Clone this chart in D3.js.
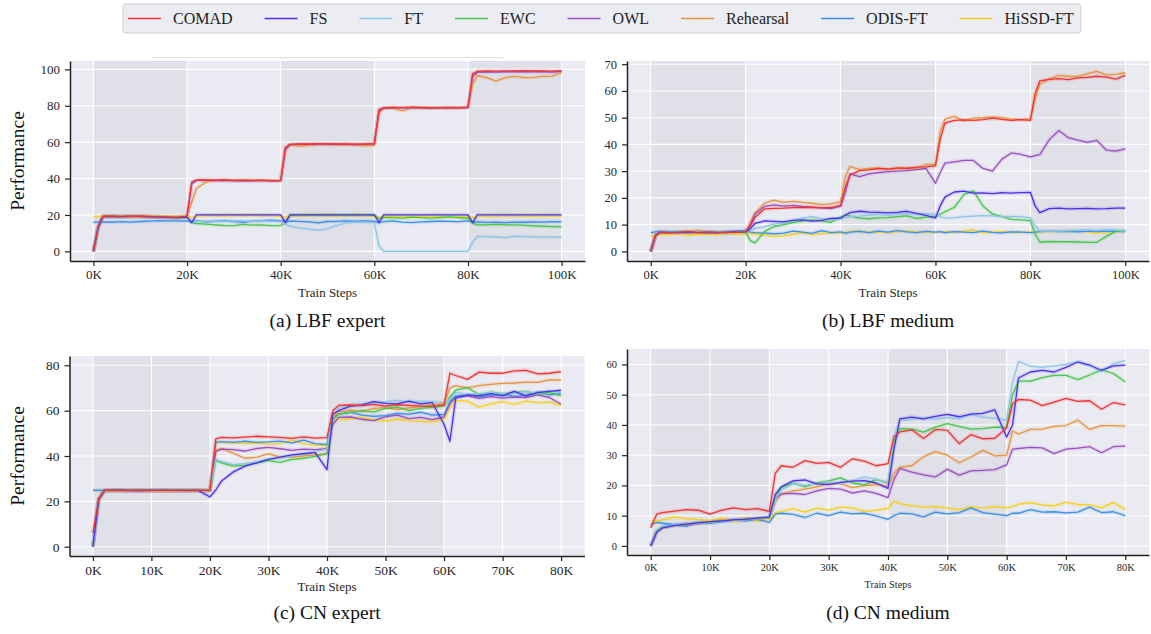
<!DOCTYPE html>
<html>
<head>
<meta charset="utf-8">
<script src="https://cdn.jsdelivr.net/npm/d3@7"></script>
<style>
  body { margin: 0; background: #fff; }
  svg { display: block; }
  svg text { font-family: "Liberation Serif", "Times New Roman", Times, serif; }
</style>
</head>
<body>
<svg id="fig" width="1151" height="634"></svg>
<script>
// ---- data --------------------------------------------------------------
const METHODS = ["COMAD", "FS", "FT", "EWC", "OWL", "Rehearsal", "ODIS-FT", "HiSSD-FT"];
const COLORS  = ["#f03232", "#4a30e8", "#8cc5e8", "#44c74a", "#9a4fc0", "#e8933f", "#3a8fe8", "#f5d01c"];

// train steps (K) at which the curves were read
const STEPS_LBF = [0, 1, 2, 4, 6, 8, 10, 12, 14, 16, 18, 20,
  21, 22, 24, 26, 28, 30, 32, 34, 36, 38, 40,
  41, 42, 44, 46, 48, 50, 52, 54, 56, 58, 60,
  61, 62, 64, 66, 68, 70, 72, 74, 76, 78, 80,
  81, 82, 84, 86, 88, 90, 92, 94, 96, 98, 100];
const STEPS_CN = [0, 1, 2, 4, 6, 8, 10, 12, 14, 16, 18, 20,
  21, 22, 24, 26, 28, 30, 32, 34, 36, 38, 40,
  41, 42, 44, 46, 48, 50, 52, 54, 56, 58, 60,
  61, 62, 64, 66, 68, 70, 72, 74, 76, 78, 80];

const XTICKS_LBF = [0, 20, 40, 60, 80, 100];
const XTICKS_CN  = [0, 10, 20, 30, 40, 50, 60, 70, 80];
const YTICKS_A = [0, 20, 40, 60, 80, 100];
const YTICKS_B = [0, 10, 20, 30, 40, 50, 60, 70];
const YTICKS_C = [0, 20, 40, 60, 80];
const YTICKS_D = [0, 10, 20, 30, 40, 50, 60];
const TASKS_LBF = [[0, 20], [40, 60], [80, 100]];
const TASKS_CN  = [[0, 20], [40, 60]];

// (a) LBF expert
const A_COMAD = [0, 13.5, 19.3, 19.4, 19.2, 19.3, 19.4, 19.2, 19.0, 18.8, 18.7, 19.4,
  38, 39.2, 39.3, 39.1, 39.2, 39.0, 39.1, 39.0, 39.1, 38.9, 39.0,
  57, 58.8, 59.1, 59.0, 59.2, 59.1, 59.0, 59.1, 58.9, 59.0, 59.2,
  78, 78.9, 79.1, 79.0, 79.2, 79.1, 78.9, 79.0, 79.1, 79.0, 79.3,
  97.5, 98.9, 99.1, 99.0, 99.2, 99.1, 99.3, 99.1, 99.2, 99.0, 99.3];
const A_FS = [0, 13, 19.1, 19.2, 19.1, 19.2, 19.2, 19.0, 18.9, 18.7, 18.6, 18.8,
  15.8, 20.1, 20.1, 20.0, 20.1, 20.1, 20.0, 20.1, 20.0, 20.1, 20.0,
  15.8, 20.1, 20.0, 20.1, 20.1, 20.0, 20.1, 20.0, 20.1, 20.0, 20.1,
  15.8, 20.1, 20.1, 20.0, 20.1, 20.0, 20.1, 20.1, 20.0, 20.1, 20.0,
  15.8, 20.1, 20.0, 20.1, 20.1, 20.0, 20.1, 20.0, 20.1, 20.1, 20.1];
const A_FT = [0, 13, 19.1, 19.2, 19.1, 19.2, 19.2, 19.0, 18.9, 18.7, 18.6, 18.5,
  16.5, 16.3, 16.6, 16.8, 16.5, 16.9, 16.7, 16.5, 16.8, 16.6, 16.4,
  15.0, 13.8, 12.8, 12.3, 11.6, 12.3, 14.3, 15.6, 16.0, 16.0, 15.8,
  3.0, 0, 0, 0, 0, 0, 0, 0, 0, 0, 0,
  5.0, 8.3, 8.1, 7.9, 7.6, 8.3, 8.1, 8.0, 7.8, 7.9, 7.7];
const A_EWC = [0, 13, 19.1, 19.2, 19.1, 19.2, 19.2, 19.0, 18.9, 18.7, 18.6, 18.6,
  15.8, 15.3, 15.0, 14.6, 14.2, 14.1, 14.8, 14.4, 14.6, 14.1, 14.2,
  16.0, 19.8, 20.0, 20.1, 20.0, 20.1, 20.0, 20.1, 20.0, 20.1, 19.8,
  18.0, 18.6, 18.5, 18.3, 18.8, 18.5, 18.3, 18.6, 18.9, 18.5, 18.2,
  15.5, 14.5, 14.6, 14.8, 14.5, 14.6, 14.3, 14.0, 13.8, 13.6, 13.4];
const A_OWL = [0, 13, 19.1, 19.2, 19.1, 19.2, 19.2, 19.0, 18.9, 18.7, 18.6, 19.2,
  37, 39.0, 39.1, 38.9, 39.0, 38.8, 38.9, 38.8, 38.9, 38.7, 38.8,
  56, 58.6, 58.9, 58.8, 59.0, 58.9, 58.8, 58.9, 58.7, 58.8, 59.0,
  77, 78.7, 78.9, 78.8, 79.0, 78.9, 78.7, 78.8, 78.9, 78.8, 79.0,
  96, 98.4, 98.6, 98.5, 98.7, 98.6, 98.8, 98.6, 98.7, 98.5, 98.9];
const A_REH = [0, 13, 19.2, 19.3, 19.1, 19.3, 19.3, 19.1, 19.0, 18.7, 18.6, 19.3,
  27, 34.5, 38.0, 39.0, 39.2, 39.0, 39.1, 38.9, 39.0, 38.8, 39.0,
  56, 58.5, 57.8, 58.3, 58.6, 58.8, 58.5, 58.7, 58.4, 58.0, 58.2,
  76, 78.5, 78.7, 77.2, 78.8, 78.6, 78.9, 78.7, 78.8, 78.6, 79.0,
  92, 96.5, 95.5, 93.5, 95.5, 96.2, 95.5, 95.6, 96.2, 96.3, 98.3];
const A_ODIS = [16.0, 16.1, 16.2, 16.0, 16.3, 16.1, 16.4, 16.6, 16.9, 16.7, 16.8, 16.6,
  16.4, 16.7, 16.2, 16.5, 16.9, 16.3, 16.0, 16.6, 16.9, 17.1, 16.7,
  16.3, 16.6, 16.5, 16.2, 15.7, 16.4, 16.5, 16.8, 16.6, 16.7, 16.5,
  15.8, 16.3, 16.7, 16.1, 15.8, 16.2, 16.4, 16.6, 16.5, 16.3, 16.8,
  16.1, 16.2, 15.9, 16.0, 15.8, 16.1, 16.0, 16.2, 16.1, 16.3, 16.2];
const A_HISSD = [19.2, 19.2, 19.3, 19.3, 19.4, 19.3, 19.4, 19.3, 19.2, 19.3, 19.2, 19.4,
  19.0, 19.4, 19.6, 19.6, 19.5, 19.6, 19.7, 19.6, 19.6, 19.6, 19.3,
  18.9, 19.6, 19.7, 19.6, 19.7, 19.6, 19.5, 19.6, 19.7, 19.6, 19.4,
  18.7, 19.2, 19.3, 19.3, 19.2, 19.3, 19.3, 19.2, 19.3, 19.3, 19.0,
  18.6, 19.4, 19.5, 19.4, 19.5, 19.5, 19.4, 19.5, 19.4, 19.5, 19.4];

// (b) LBF medium
const B_COMAD = [0, 6, 7.2, 7.0, 7.1, 7.3, 7.0, 7.2, 7.1, 7.0, 7.2, 7.3,
  9.5, 12.8, 15.9, 16.1, 16.2, 16.4, 16.4, 16.5, 16.3, 16.4, 17.2,
  24, 28.5, 30.2, 30.5, 31.0, 30.8, 31.2, 31.0, 31.5, 31.6, 32.0,
  42, 48, 49.0, 49.2, 49.0, 49.3, 49.8, 49.4, 49.0, 49.3, 49.0,
  59, 63.8, 64.3, 64.6, 64.2, 64.9, 65.1, 65.5, 65.2, 64.4, 65.8];
const B_FS = [0, 6, 7.0, 7.1, 7.0, 7.2, 7.0, 7.1, 7.0, 7.1, 7.2, 7.3,
  8.5, 10.5, 11.4, 11.2, 11.0, 11.6, 11.8, 11.3, 11.6, 12.3, 12.4,
  13.5, 14.5, 15.0, 14.7, 14.6, 14.4, 14.6, 15.0, 14.2, 13.5, 12.5,
  17, 20.3, 22.2, 22.5, 21.8, 21.9, 21.6, 22.0, 21.8, 22.0, 22.1,
  17, 14.5, 16.0, 16.2, 15.9, 16.0, 16.1, 15.9, 16.0, 16.2, 16.2];
const B_FT = [0, 6, 7.0, 7.2, 7.0, 7.1, 7.3, 7.1, 7.2, 7.0, 7.1, 7.4,
  8, 8.5, 9.3, 10.2, 10.8, 11.5, 12.5, 13.0, 12.2, 11.8, 12.2,
  12.5, 13.0, 13.2, 13.6, 13.8, 13.5, 13.9, 14.0, 13.8, 14.2, 13.8,
  13.0, 12.4, 12.6, 13.0, 13.2, 13.4, 13.3, 13.0, 13.1, 13.0, 12.5,
  9.5, 7.6, 7.5, 7.6, 7.7, 7.9, 8.0, 7.8, 8.1, 8.0, 7.6];
const B_EWC = [0, 6, 7.1, 7.0, 7.2, 7.1, 7.0, 7.2, 7.1, 7.0, 7.1, 7.2,
  4.0, 3.2, 7.5, 9.3, 10.0, 10.8, 11.3, 11.8, 11.3, 10.9, 12.8,
  13.6, 13.2, 12.4, 12.2, 12.5, 12.6, 13.0, 13.3, 12.3, 12.8, 13.0,
  13.8, 14.8, 16.5, 21.2, 22.6, 17.0, 14.0, 13.0, 12.0, 11.8, 11.5,
  6.5, 3.5, 3.7, 3.6, 3.6, 3.5, 3.4, 3.4, 5.6, 7.5, 7.8];
const B_OWL = [0, 6, 7.1, 7.0, 7.3, 7.2, 7.4, 7.2, 7.0, 7.1, 7.2, 7.3,
  10, 14, 16.8, 17.4, 16.9, 17.2, 16.8, 16.5, 16.3, 16.0, 16.8,
  22, 29.0, 28.0, 29.0, 29.5, 29.8, 30.0, 30.2, 30.6, 31.0, 25.5,
  29.5, 33.0, 33.5, 34.0, 34.0, 31.0, 30.0, 34.5, 36.8, 36.3, 35.3,
  35.8, 36.2, 41.8, 45.2, 42.5, 41.6, 40.8, 41.5, 37.9, 37.5, 38.3];
const B_REH = [0, 5.5, 7.0, 6.8, 7.2, 7.5, 7.8, 7.3, 7.0, 7.2, 7.0, 7.4,
  11, 14.5, 18.0, 19.2, 18.3, 18.7, 18.3, 18.0, 17.5, 17.8, 18.6,
  28, 31.8, 30.6, 31.0, 31.2, 30.6, 31.0, 31.3, 31.0, 32.5, 32.5,
  45, 49.5, 50.5, 48.8, 49.8, 50.0, 50.3, 50.0, 49.5, 49.3, 49.5,
  57, 62.5, 64.5, 65.8, 65.5, 65.4, 66.5, 67.3, 66.0, 66.2, 66.8];
const B_ODIS = [7.0, 7.3, 7.5, 7.2, 6.9, 7.0, 7.2, 6.8, 7.0, 7.3, 7.6, 7.8,
  7.2, 7.0, 6.8, 6.6, 6.8, 7.6, 7.2, 6.7, 7.8, 7.0, 7.3,
  6.8, 7.2, 7.5, 7.0, 7.6, 7.2, 7.8, 7.3, 7.0, 7.5, 7.2,
  7.4, 7.0, 7.4, 7.2, 7.0, 7.6, 7.1, 6.9, 7.3, 7.2, 7.0,
  7.2, 7.4, 7.6, 7.4, 7.5, 7.3, 7.6, 7.4, 7.6, 7.5, 7.4];
const B_HISSD = [5.5, 6.2, 6.4, 6.3, 6.6, 6.0, 6.4, 6.5, 6.2, 6.8, 6.5, 6.6,
  6.7, 6.5, 6.1, 5.6, 5.8, 6.4, 6.9, 6.3, 6.6, 6.8, 6.9,
  7.0, 7.4, 7.6, 7.2, 7.3, 7.0, 7.4, 7.6, 7.2, 7.3, 7.1,
  7.2, 7.4, 7.1, 7.6, 8.0, 7.0, 7.2, 7.4, 7.0, 7.2, 7.1,
  7.2, 7.3, 7.5, 7.4, 7.6, 7.5, 7.3, 6.9, 7.2, 7.4, 7.4];

// (c) CN expert
const C_COMAD = [6, 21, 24.8, 24.9, 24.8, 24.9, 24.8, 24.9, 24.8, 24.8, 24.9, 24.8,
  47.5, 48.2, 48.0, 48.3, 48.7, 48.4, 48.2, 47.8, 48.4, 47.9, 48.1,
  60, 62.3, 62.5, 62.2, 62.8, 62.0, 62.6, 62.3, 62.0, 61.9, 62.5,
  76.5, 75.5, 73.8, 77.0, 76.5, 76.5, 77.5, 77.8, 76.2, 76.5, 77.2];
const C_FS = [0, 21, 24.8, 24.9, 24.8, 24.8, 24.8, 24.8, 24.8, 24.8, 24.8, 22.0,
  25.0, 29.0, 33.0, 35.5, 37.0, 38.5, 39.5, 40.5, 41.0, 41.5, 34.0,
  58.5, 60.0, 62.0, 62.5, 64.0, 63.2, 63.0, 64.2, 63.0, 63.5, 54.0,
  46.5, 65.5, 67.0, 66.5, 67.5, 66.5, 68.5, 66.5, 68.0, 68.5, 69.0];
const C_FT = [0, 21, 24.8, 24.8, 24.9, 24.8, 24.8, 24.9, 24.8, 24.8, 24.8, 24.8,
  38.5, 37.5, 36.2, 36.6, 37.5, 38.6, 39.0, 40.0, 41.0, 42.0, 43.0,
  58, 61.0, 62.5, 63.0, 63.2, 64.0, 64.5, 63.8, 64.2, 64.0, 63.5,
  65, 68.0, 67.2, 67.5, 68.0, 67.4, 67.8, 68.4, 67.6, 68.8, 68.0];
const C_EWC = [0, 21, 24.8, 24.8, 24.8, 24.9, 24.8, 24.8, 24.8, 24.9, 24.8, 24.8,
  38, 37.0, 35.5, 36.0, 37.0, 38.0, 37.2, 38.5, 39.0, 39.8, 41.0,
  56, 58.5, 59.2, 60.0, 59.5, 61.0, 61.5, 60.0, 61.0, 61.5, 62.0,
  66, 69.0, 70.2, 67.0, 68.2, 67.5, 68.0, 68.5, 67.2, 68.0, 66.5];
const C_OWL = [0, 21, 24.8, 24.9, 24.8, 24.7, 24.8, 24.9, 24.8, 24.8, 24.8, 24.9,
  42, 43.0, 42.8, 42.2, 43.3, 43.8, 43.2, 42.5, 43.0, 42.8, 43.2,
  54, 57.0, 57.2, 56.2, 55.6, 57.3, 58.0, 56.5, 57.0, 56.0, 57.2,
  63, 66.0, 66.5, 65.4, 66.2, 65.5, 66.0, 65.8, 67.0, 65.8, 62.8];
const C_REH = [0, 21, 24.8, 24.8, 24.9, 24.8, 24.8, 24.8, 24.9, 24.8, 24.8, 24.8,
  42.5, 43.4, 41.2, 39.0, 39.4, 41.0, 39.5, 39.5, 40.0, 40.5, 41.0,
  57, 59.5, 60.2, 59.6, 61.0, 61.3, 60.5, 61.2, 61.8, 62.6, 63.0,
  70, 71.0, 70.0, 71.0, 71.6, 72.0, 72.2, 72.6, 72.5, 73.6, 73.5];
const C_ODIS = [24.8, 24.9, 24.8, 24.9, 24.8, 24.7, 24.8, 24.9, 24.8, 24.7, 24.8, 24.8,
  46, 46.3, 46.0, 46.5, 46.0, 46.2, 46.6, 45.8, 47.0, 45.5, 45.0,
  57, 58.5, 59.3, 58.0, 57.5, 57.8, 58.8, 58.5, 59.3, 58.0, 58.3,
  64, 66.5, 67.0, 66.0, 66.8, 67.2, 66.3, 66.8, 68.2, 67.0, 67.5];
const C_HISSD = [24.8, 24.7, 24.8, 24.7, 24.8, 24.8, 24.7, 24.8, 24.7, 24.8, 24.7, 24.8,
  46.5, 46.0, 45.8, 45.5, 45.6, 45.2, 45.5, 47.0, 45.5, 44.8, 44.5,
  55.5, 56.0, 56.3, 57.0, 56.0, 55.5, 56.2, 55.6, 55.3, 55.0, 56.0,
  61, 64.5, 64.2, 61.5, 63.0, 64.0, 62.8, 64.2, 63.5, 63.8, 62.2];

// (d) CN medium
const D_COMAD = [6.0, 10.5, 11.0, 11.5, 12.0, 11.8, 10.5, 11.8, 12.6, 12.0, 12.3, 11.4,
  24, 26.5, 26.0, 28.2, 27.3, 27.6, 26.0, 28.8, 28.0, 26.5, 27.2,
  36, 37.7, 38.4, 35.5, 38.5, 38.2, 33.8, 36.8, 35.4, 35.6, 39.0,
  47.0, 48.4, 48.2, 46.4, 47.5, 48.8, 47.8, 48.0, 45.2, 47.4, 46.6];
const D_FS = [0, 4.5, 6.0, 6.8, 7.2, 7.6, 8.0, 8.3, 8.6, 8.8, 9.2, 9.5,
  17.0, 19.5, 21.5, 21.8, 20.5, 20.3, 21.0, 21.4, 21.6, 20.8, 19.0,
  32, 42.0, 42.6, 42.0, 42.8, 43.5, 42.7, 43.6, 43.8, 45.0, 36.0,
  40, 55.5, 57.5, 58.0, 57.5, 59.0, 60.8, 59.8, 58.0, 59.5, 59.8];
const D_FT = [0, 4.8, 6.2, 7.0, 7.4, 7.5, 7.8, 8.2, 8.4, 8.6, 9.0, 9.3,
  15, 18.5, 20.5, 20.0, 20.5, 21.2, 20.6, 21.5, 22.8, 22.0, 21.0,
  36, 41.5, 41.8, 42.4, 41.8, 42.4, 42.0, 43.4, 42.6, 42.2, 41.6,
  54, 61.0, 59.4, 59.0, 59.5, 60.0, 61.0, 59.5, 57.8, 60.2, 61.3];
const D_EWC = [0, 5.0, 6.3, 6.9, 7.3, 7.6, 7.9, 8.3, 8.5, 8.9, 9.0, 9.4,
  15.5, 19.3, 20.8, 19.6, 20.8, 21.5, 22.5, 20.8, 20.2, 22.0, 20.8,
  34, 38.8, 38.6, 37.6, 39.3, 40.4, 39.5, 38.6, 38.8, 39.3, 39.2,
  50, 54.5, 54.5, 55.6, 56.4, 56.4, 55.0, 56.5, 58.2, 57.0, 54.2];
const D_OWL = [0, 4.8, 6.2, 6.8, 7.2, 7.5, 7.9, 8.2, 8.6, 8.8, 9.1, 9.3,
  15.5, 17.2, 17.4, 17.0, 18.2, 19.0, 18.8, 17.5, 18.2, 17.4, 16.0,
  22.0, 25.6, 24.4, 23.5, 22.8, 25.4, 23.4, 24.8, 25.0, 25.2, 26.8,
  32, 32.2, 32.6, 32.4, 30.5, 32.0, 32.3, 32.8, 30.8, 32.8, 33.0];
const D_REH = [0, 4.5, 6.0, 6.8, 7.0, 7.4, 8.0, 8.6, 8.5, 9.2, 8.8, 9.4,
  14.5, 17.2, 18.2, 18.8, 19.5, 20.5, 20.6, 19.3, 19.9, 20.3, 19.8,
  24, 26.0, 26.5, 29.5, 31.2, 30.0, 27.5, 29.4, 31.6, 29.8, 30.0,
  38, 37.0, 38.5, 38.6, 39.5, 39.8, 41.6, 38.5, 39.8, 39.8, 39.6];
const D_ODIS = [7.0, 7.8, 7.5, 7.0, 6.5, 7.8, 7.5, 8.0, 8.5, 8.3, 8.8, 7.8,
  10.5, 10.8, 10.4, 9.4, 10.8, 10.0, 11.2, 10.6, 10.8, 9.9, 8.8,
  10.0, 10.8, 10.6, 9.6, 11.2, 10.6, 11.0, 12.6, 11.0, 10.5, 10.0,
  10.8, 10.8, 12.0, 11.2, 11.3, 10.9, 11.2, 12.8, 11.0, 11.3, 10.0];
const D_HISSD = [7.8, 8.2, 8.6, 9.5, 9.0, 8.7, 8.4, 9.2, 8.0, 8.6, 8.2, 8.8,
  11.0, 11.4, 12.3, 11.2, 12.5, 11.8, 12.8, 12.6, 11.4, 11.8, 12.4,
  14.8, 14.0, 13.3, 12.8, 13.0, 12.5, 12.0, 12.9, 12.5, 13.0, 12.6,
  13.0, 13.8, 14.3, 13.6, 13.2, 14.4, 13.7, 13.6, 12.6, 14.4, 12.0];

// ---- layout ------------------------------------------------------------
const SERIF = "'Liberation Serif', 'Times New Roman', Times, serif";
const BG = "#eaeaf2", SHADE = "#e0e0e8", INK = "#222";

const panels = [
  { caption: "(a) LBF expert", left: 70, right: 585, top: 61, bottom: 261,
    xDom: [-5, 105], yDom: [-5.3, 104.6], xTicks: XTICKS_LBF, yTicks: YTICKS_A,
    tasks: TASKS_LBF, steps: STEPS_LBF, tickFs: 13, labelFs: 13, labelY: 297, capY: 327, ylabel: true,
    series: [A_COMAD, A_FS, A_FT, A_EWC, A_OWL, A_REH, A_ODIS, A_HISSD] },
  { caption: "(b) LBF medium", left: 627, right: 1149, top: 61, bottom: 261,
    xDom: [-5, 105], yDom: [-3.6, 71.2], xTicks: XTICKS_LBF, yTicks: YTICKS_B,
    tasks: TASKS_LBF, steps: STEPS_LBF, tickFs: 12.5, labelFs: 13, labelY: 297, capY: 327, ylabel: false,
    series: [B_COMAD, B_FS, B_FT, B_EWC, B_OWL, B_REH, B_ODIS, B_HISSD] },
  { caption: "(c) CN expert", left: 69.5, right: 584.5, top: 356, bottom: 556,
    xDom: [-4, 84], yDom: [-4.1, 84.1], xTicks: XTICKS_CN, yTicks: YTICKS_C,
    tasks: TASKS_CN, steps: STEPS_CN, tickFs: 13.5, labelFs: 13, labelY: 591, capY: 619, ylabel: true,
    series: [C_COMAD, C_FS, C_FT, C_EWC, C_OWL, C_REH, C_ODIS, C_HISSD] },
  { caption: "(d) CN medium", left: 627, right: 1149, top: 349, bottom: 555,
    xDom: [-4, 84], yDom: [-3.0, 65.1], xTicks: XTICKS_CN, yTicks: YTICKS_D,
    tasks: TASKS_CN, steps: STEPS_CN, tickFs: 10.5, labelFs: 10.3, labelY: 588, capY: 619, ylabel: false,
    series: [D_COMAD, D_FS, D_FT, D_EWC, D_OWL, D_REH, D_ODIS, D_HISSD] }
];

const svg = d3.select("#fig");
svg.append("rect").attr("width", 1151).attr("height", 634).attr("fill", "#fff");

// faint stray rule above panel (a)
svg.append("line").attr("x1", 152).attr("x2", 503).attr("y1", 57.5).attr("y2", 57.5)
  .attr("stroke", "#dedede").attr("stroke-width", 1);

function drawPanel(p) {
  p.series.forEach((s, i) => {
    if (s.length !== p.steps.length) throw new Error(p.caption + " " + METHODS[i] + " has " + s.length);
  });
  const x = d3.scaleLinear().domain(p.xDom).range([p.left, p.right]);
  const y = d3.scaleLinear().domain(p.yDom).range([p.bottom, p.top]);
  const g = svg.append("g");

  g.append("rect").attr("x", p.left).attr("y", p.top)
    .attr("width", p.right - p.left).attr("height", p.bottom - p.top).attr("fill", BG);
  g.selectAll("rect.task").data(p.tasks).join("rect").attr("class", "task")
    .attr("x", d => x(d[0])).attr("width", d => x(d[1]) - x(d[0]))
    .attr("y", p.top).attr("height", p.bottom - p.top).attr("fill", SHADE);

  g.selectAll("line.gx").data(p.xTicks).join("line").attr("class", "gx")
    .attr("x1", d => x(d)).attr("x2", d => x(d)).attr("y1", p.top).attr("y2", p.bottom)
    .attr("stroke", "#fff").attr("stroke-width", 1.1);
  g.selectAll("line.gy").data(p.yTicks).join("line").attr("class", "gy")
    .attr("x1", p.left).attr("x2", p.right).attr("y1", d => y(d)).attr("y2", d => y(d))
    .attr("stroke", "#fff").attr("stroke-width", 1.1);

  const line = d3.line().x((d, i) => x(p.steps[i])).y(d => y(d));
  const order = d3.range(METHODS.length).reverse();
  order.forEach(i => {
    g.append("path").datum(p.series[i]).attr("d", line).attr("fill", "none")
      .attr("stroke", COLORS[i]).attr("stroke-opacity", 0.14).attr("stroke-width", 4)
      .attr("stroke-linejoin", "round");
  });
  order.forEach(i => {
    g.append("path").datum(p.series[i]).attr("d", line).attr("fill", "none")
      .attr("stroke", COLORS[i]).attr("stroke-width", 1.3).attr("stroke-linejoin", "round");
  });

  const xa = g.append("g").attr("transform", `translate(0,${p.bottom})`)
    .call(d3.axisBottom(x).tickValues(p.xTicks).tickFormat(d => d + "K")
      .tickSize(5).tickSizeOuter(0).tickPadding(4));
  const ya = g.append("g").attr("transform", `translate(${p.left},0)`)
    .call(d3.axisLeft(y).tickValues(p.yTicks).tickSize(5).tickSizeOuter(0).tickPadding(5));
  [xa, ya].forEach(a => {
    a.attr("font-family", null).attr("font-size", p.tickFs);
    a.select(".domain").attr("stroke", INK).attr("stroke-width", 1.5);
    a.selectAll(".tick line").attr("stroke", INK).attr("stroke-width", 1.2);
    a.selectAll(".tick text").attr("fill", "#262626");
  });

  const cx = (p.left + p.right) / 2;
  g.append("text").attr("x", cx).attr("y", p.labelY).attr("text-anchor", "middle")
    .attr("font-size", p.labelFs).attr("fill", "#262626").text("Train Steps");
  g.append("text").attr("x", cx).attr("y", p.capY).attr("text-anchor", "middle")
    .attr("font-size", 19.5).attr("fill", "#111").text(p.caption);
  if (p.ylabel) {
    const cy = (p.top + p.bottom) / 2;
    g.append("text").attr("transform", `translate(24,${cy}) rotate(-90)`).attr("text-anchor", "middle")
      .attr("font-size", 19.5).attr("fill", "#111").text("Performance");
  }
}
panels.forEach(drawPanel);

// ---- legend ------------------------------------------------------------
const lg = svg.append("g");
const box = lg.append("rect").attr("x", 123).attr("y", 4).attr("height", 29).attr("rx", 3)
  .attr("fill", "#ececf3").attr("stroke", "#cfcfd4").attr("stroke-width", 1);
let lx = 128;
METHODS.forEach((m, i) => {
  lg.append("line").attr("x1", lx).attr("x2", lx + 33).attr("y1", 18.5).attr("y2", 18.5)
    .attr("stroke", COLORS[i]).attr("stroke-width", 1.5);
  const t = lg.append("text").attr("x", lx + 45).attr("y", 24)
    .attr("font-size", 16).attr("fill", "#222").text(m);
  lx += 45 + t.node().getComputedTextLength() + 32;
});
box.attr("width", lx - 32 + 7 - 123);
svg.selectAll("text").style("font-family", SERIF);
</script>
</body>
</html>
